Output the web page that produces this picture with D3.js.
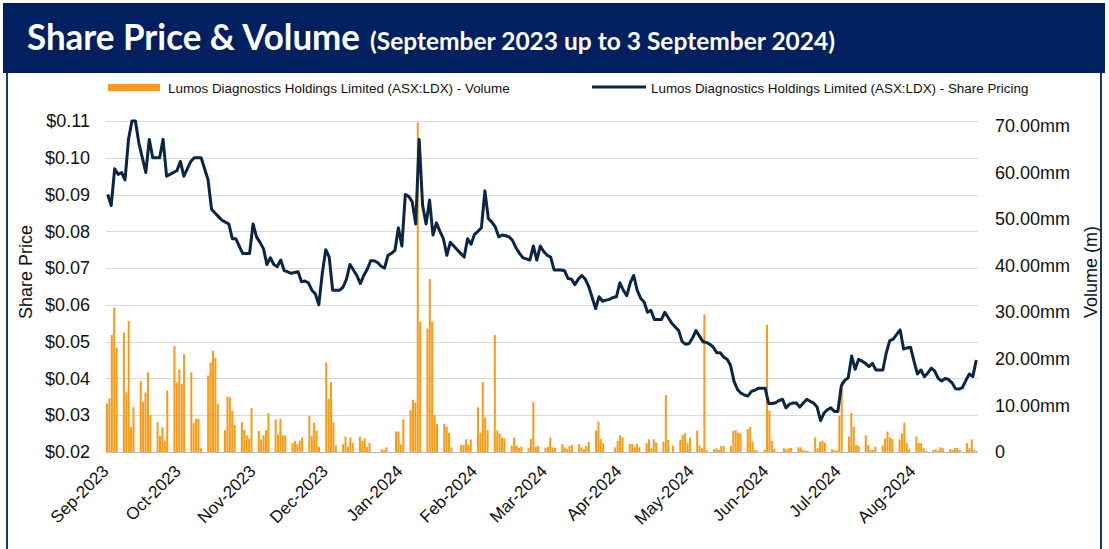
<!DOCTYPE html>
<html>
<head>
<meta charset="utf-8">
<script src="https://cdn.jsdelivr.net/npm/d3@7"></script>
<style>
  body { margin: 0; background: #fff; }
  svg { display: block; font-family: "Liberation Sans", Arial, sans-serif; }
</style>
</head>
<body>
<svg id="chart" width="1109" height="549"></svg>
<script>
// trading calendar (ASX), weekdays from firstDay to lastDay minus holidays
const firstDay = "2023-09-04";
const lastDay = "2024-08-30";
const holidays = ["2023-12-25", "2023-12-26", "2024-01-01", "2024-01-26",
  "2024-03-29", "2024-04-01", "2024-04-25", "2024-06-10"];

// share price (A$), one per trading day
const sharePrice = [
  // Sep-2023
  0.090, 0.087, 0.097, 0.0955, 0.096, 0.094, 0.105, 0.110, 0.110, 0.104,
  0.100, 0.096, 0.105, 0.100, 0.100, 0.100, 0.105, 0.095, 0.0955, 0.096,
  // Oct-2023
  0.0965, 0.099, 0.095, 0.097, 0.099, 0.100, 0.100, 0.100, 0.097, 0.094,
  0.086, 0.085, 0.084, 0.083, 0.0825, 0.082, 0.078, 0.078, 0.076, 0.074,
  0.074, 0.074,
  // Nov-2023
  0.082, 0.0785, 0.077, 0.0753, 0.071, 0.0728, 0.071, 0.0704, 0.0722, 0.0693,
  0.069, 0.0686, 0.0688, 0.069, 0.0663, 0.0665, 0.066, 0.064, 0.063, 0.060,
  0.0685, 0.075,
  // Dec-2023
  0.073, 0.064, 0.064, 0.064, 0.0648, 0.067, 0.071, 0.0695, 0.068, 0.0658,
  0.068, 0.0697, 0.072, 0.072, 0.0715, 0.0705, 0.070, 0.0735, 0.074,
  // Jan-2024
  0.0748, 0.081, 0.076, 0.090, 0.0895, 0.088, 0.082, 0.105, 0.087, 0.082,
  0.0885, 0.079, 0.0823, 0.080, 0.078, 0.0735, 0.077, 0.076, 0.075, 0.074,
  0.073,
  // Feb-2024
  0.078, 0.0765, 0.0792, 0.080, 0.081, 0.091, 0.0835, 0.0825, 0.0812, 0.0785,
  0.079, 0.0788, 0.0785, 0.0775, 0.0755, 0.074, 0.0728, 0.0725, 0.0722, 0.076,
  0.0722,
  // Mar-2024
  0.076, 0.0745, 0.0735, 0.073, 0.0695, 0.0695, 0.0695, 0.0693, 0.0672, 0.067,
  0.0655, 0.067, 0.068, 0.067, 0.065, 0.062, 0.059, 0.0622, 0.061, 0.0613,
  // Apr-2024
  0.0615, 0.062, 0.0622, 0.066, 0.064, 0.0625, 0.066, 0.068, 0.064, 0.0618,
  0.0608, 0.058, 0.0585, 0.056, 0.056, 0.056, 0.058, 0.0565, 0.055, 0.054,
  // May-2024
  0.053, 0.050, 0.0493, 0.0495, 0.051, 0.053, 0.0515, 0.050, 0.0498, 0.0493,
  0.0485, 0.047, 0.047, 0.0458, 0.0452, 0.0435, 0.0392, 0.037, 0.036, 0.0355,
  0.0352, 0.0365, 0.0368,
  // Jun-2024
  0.0373, 0.0373, 0.0373, 0.0332, 0.0332, 0.0334, 0.034, 0.0343, 0.032, 0.033,
  0.0333, 0.0333, 0.0322, 0.0333, 0.0343, 0.0338, 0.0333, 0.0322, 0.0285,
  // Jul-2024
  0.0306, 0.0315, 0.032, 0.031, 0.031, 0.038, 0.0395, 0.0402, 0.0461, 0.0425,
  0.0452, 0.0447, 0.0441, 0.0432, 0.0441, 0.0423, 0.0423, 0.0423, 0.047, 0.0503,
  0.0507, 0.052, 0.0532,
  // Aug-2024
  0.048, 0.0483, 0.0485, 0.0447, 0.0412, 0.0423, 0.0405, 0.0415, 0.0428, 0.042,
  0.040, 0.0393, 0.040, 0.0397, 0.0388, 0.0372, 0.0371, 0.0375, 0.0395, 0.0412,
  0.0405, 0.045
];

// traded volume (millions of shares), one per trading day, by week
const volume = [
  10.4, 11.5, 25.1, 31.0, 22.4,   25.6, 12.8, 28.1, 5.4, 9.6,
  15.2, 10.8, 12.8, 17.1, 7.9,    6.4, 3.4, 5.3, 2.4, 13.2,
  22.7, 14.9, 17.7, 14.6, 21.0,   17.1, 6.2, 7.1, 7.1, 0.8,
  16.4, 19.2, 21.7, 20.2, 10.3,   4.7, 11.9, 11.7, 8.8, 5.8,
  6.4, 4.7, 3.6, 2.8, 9.4,        4.5, 2.7, 3.6, 4.7, 8.3,
  7.0, 3.8, 7.1, 3.5, 3.6,        1.9, 2.4, 1.7, 2.4, 3.1,
  7.7, 3.4, 6.3, 4.6, 1.1,        19.2, 11.4, 15.0, 6.3, 1.4,
  1.7, 3.3, 1.1, 3.1, 2.0,        3.3, 2.4, 2.9, 1.1, 1.9,
  0.6, 0.4, 1.0,                  4.4, 4.4, 1.6, 7.0,
  9.0, 11.2, 10.6, 70.7, 28.0,    26.5, 37.1, 28.0, 7.9, 6.0,
  6.0, 5.4, 4.1, 1.0,             1.5, 1.5, 2.7, 1.5, 2.7,
  9.6, 4.1, 15.0, 7.4, 4.7,       25.1, 4.6, 4.0, 3.1, 2.9,
  1.4, 3.1, 1.4, 0.9, 1.1,        0.8, 2.8, 10.7, 1.1, 1.3,
  0.9, 1.1, 3.1, 1.0, 0.9,        1.7, 1.0, 0.6, 1.3, 1.5,
  1.7, 1.0, 0.6, 1.3, 2.2,        4.6, 6.5, 2.8, 1.9,
  1.0, 2.4, 3.6, 3.1,             1.7, 1.7, 1.1, 1.7, 1.0,
  1.9, 2.7, 0.8, 2.7, 2.0,        2.2, 12.2, 2.6, 1.4,
  2.6, 3.6, 4.0, 1.9, 3.1,        4.6, 1.4, 0.8, 29.5, 0.4,
  0.6, 0.8, 0.4, 1.3, 1.3,        1.3, 4.5, 4.7, 4.1, 4.0,
  4.9, 5.4, 2.2, 0.4, 0.3,        0.5, 27.3, 8.9, 2.4, 0.6,
  0.8, 0.6, 0.8, 0.9,             1.0, 1.0, 0.4, 0.3, 0.2,
  3.1, 0.8, 2.2, 2.4, 2.0,        0.6, 0.4, 0.3, 7.7, 15.1,
  3.3, 8.4, 5.4, 1.5, 1.3,        3.6, 1.5, 0.4, 0.4, 1.1,
  1.4, 2.9, 4.4, 3.1, 2.8,        2.7, 4.0, 6.3, 1.9, 0.6,
  3.3, 1.9, 1.9, 0.8, 0.2,        0.4, 0.6, 0.3, 1.0, 0.8,
  0.6, 0.4, 0.8, 0.9, 0.4,        1.9, 0.8, 2.7, 0.4, 0.2
];

const priceTicks = [0.02, 0.03, 0.04, 0.05, 0.06, 0.07, 0.08, 0.09, 0.10, 0.11];
const volumeTicks = [0, 10, 20, 30, 40, 50, 60, 70];
const monthTicks = ["2023-09-04", "2023-10-04", "2023-11-04", "2023-12-04",
  "2024-01-04", "2024-02-04", "2024-03-04", "2024-04-04", "2024-05-04",
  "2024-06-04", "2024-07-04", "2024-08-04"];

const navy = "#002060";
const lineColor = "#0B2545";
const barColor = "#FB9A16";

const parse = d3.timeParse("%Y-%m-%d");
const fmt = d3.timeFormat("%Y-%m-%d");
const holidaySet = new Set(holidays);
const days = d3.timeDay
  .range(parse(firstDay), d3.timeDay.offset(parse(lastDay), 1))
  .filter(d => d.getDay() !== 0 && d.getDay() !== 6 && !holidaySet.has(fmt(d)));

const plot = { left: 106, right: 978, top: 121, bottom: 452 };
const svg = d3.select("#chart");

// header band and frame
svg.append("rect")
  .attr("x", 7).attr("y", 40).attr("width", 1094).attr("height", 540)
  .attr("fill", "none").attr("stroke", "#1F3864").attr("stroke-width", 2);
svg.append("rect")
  .attr("x", 3).attr("y", 3).attr("width", 1102).attr("height", 70)
  .attr("fill", navy);
svg.append("text")
  .attr("x", 27).attr("y", 50)
  .attr("font-family", "Lato, 'Open Sans', sans-serif")
  .attr("font-weight", 700).attr("font-size", 37)
  .attr("textLength", 333).attr("lengthAdjust", "spacingAndGlyphs")
  .attr("fill", "#fff")
  .text("Share Price & Volume");
svg.append("text")
  .attr("x", 370).attr("y", 50)
  .attr("font-family", "Lato, 'Open Sans', sans-serif")
  .attr("font-weight", 700).attr("font-size", 25)
  .attr("textLength", 465).attr("lengthAdjust", "spacingAndGlyphs")
  .attr("fill", "#fff")
  .text("(September 2023 up to 3 September 2024)");

// scales
const xDate = d3.scaleTime()
  .domain([parse(firstDay), d3.timeDay.offset(parse(lastDay), 1)])
  .range([plot.left, plot.right]);
const xIdx = d3.scalePoint()
  .domain(d3.range(days.length))
  .range([plot.left, plot.right])
  .padding(0.5);
const yPrice = d3.scaleLinear().domain([0.02, 0.11]).range([plot.bottom, plot.top]);
const yVol = d3.scaleLinear().domain([0, 71]).range([plot.bottom, plot.top]);

// gridlines
svg.append("g")
  .selectAll("line")
  .data(priceTicks)
  .join("line")
  .attr("x1", plot.left).attr("x2", plot.right)
  .attr("y1", d => Math.round(yPrice(d)) + 0.5)
  .attr("y2", d => Math.round(yPrice(d)) + 0.5)
  .attr("stroke", (d, i) => i === 0 ? "#BFBFBF" : "#D9D9D9")
  .attr("stroke-width", 1.2);

// volume bars
svg.append("g")
  .selectAll("rect")
  .data(days.map((d, i) => ({ date: d, v: volume[i] })))
  .join("rect")
  .attr("x", d => xDate(d.date))
  .attr("width", d => xDate(d3.timeDay.offset(d.date, 1)) - xDate(d.date) - 0.4)
  .attr("y", d => yVol(d.v))
  .attr("height", d => yVol(0) - yVol(d.v))
  .attr("fill", barColor);

// share price line
const line = d3.line()
  .x((d, i) => xIdx(i))
  .y(d => yPrice(d));
svg.append("path")
  .datum(sharePrice)
  .attr("fill", "none")
  .attr("stroke", lineColor)
  .attr("stroke-width", 3)
  .attr("stroke-linejoin", "round")
  .attr("d", line);

// axes
const leftAxis = svg.append("g")
  .attr("transform", `translate(${plot.left},0)`)
  .call(d3.axisLeft(yPrice).tickValues(priceTicks)
    .tickFormat(d3.format("$.2f")).tickSize(0).tickPadding(16));
const rightAxis = svg.append("g")
  .attr("transform", `translate(${plot.right},0)`)
  .call(d3.axisRight(yVol).tickValues(volumeTicks)
    .tickFormat(d => d === 0 ? "0" : d3.format(".2f")(d) + "mm")
    .tickSize(0).tickPadding(17));
const bottomAxis = svg.append("g")
  .attr("transform", `translate(0,${plot.bottom})`)
  .call(d3.axisBottom(xDate).tickValues(monthTicks.map(parse))
    .tickFormat(d3.timeFormat("%b-%Y")).tickSize(0));

[leftAxis, rightAxis, bottomAxis].forEach(g => {
  g.select(".domain").remove();
  g.selectAll("text")
    .attr("font-family", "'Liberation Sans', Arial, sans-serif")
    .attr("font-size", 18)
    .attr("fill", "#111");
});
bottomAxis.selectAll("text")
  .attr("font-size", 17)
  .attr("x", 0).attr("y", 0).attr("dy", "0.35em")
  .attr("text-anchor", "end")
  .attr("transform", "translate(-1,16) rotate(-45)");

// axis titles
svg.append("text")
  .attr("transform", "translate(32,272) rotate(-90)")
  .attr("text-anchor", "middle")
  .attr("font-size", 18).attr("fill", "#111")
  .text("Share Price");
svg.append("text")
  .attr("transform", "translate(1097,272) rotate(-90)")
  .attr("text-anchor", "middle")
  .attr("font-size", 18).attr("fill", "#111")
  .text("Volume (m)");

// legend
const legend = svg.append("g").attr("font-size", 13.4).attr("fill", "#111");
legend.append("rect")
  .attr("x", 108).attr("y", 84).attr("width", 52).attr("height", 7)
  .attr("fill", barColor);
legend.append("text")
  .attr("x", 168).attr("y", 88).attr("dy", "0.35em")
  .text("Lumos Diagnostics Holdings Limited (ASX:LDX) - Volume");
legend.append("line")
  .attr("x1", 592).attr("x2", 646).attr("y1", 87).attr("y2", 87)
  .attr("stroke", lineColor).attr("stroke-width", 3);
legend.append("text")
  .attr("x", 651).attr("y", 88).attr("dy", "0.35em")
  .text("Lumos Diagnostics Holdings Limited (ASX:LDX) - Share Pricing");
</script>
</body>
</html>
